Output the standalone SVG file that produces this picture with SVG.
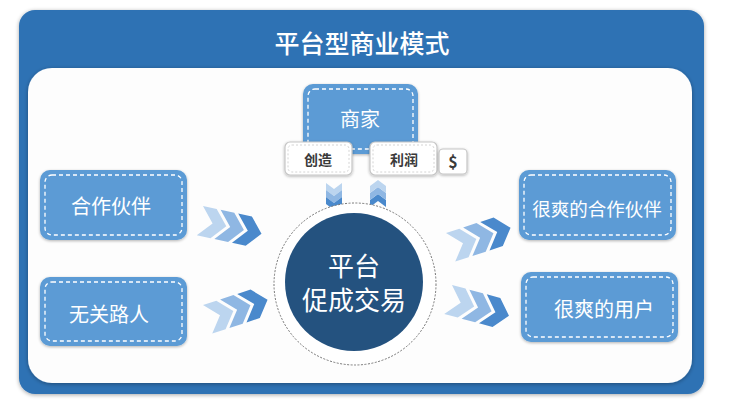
<svg xmlns="http://www.w3.org/2000/svg" width="731" height="409" viewBox="0 0 731 409">
<defs>
<filter id="sh" x="-5%" y="-5%" width="110%" height="115%"><feGaussianBlur in="SourceAlpha" stdDeviation="2"/><feOffset dx="0" dy="1"/><feComponentTransfer><feFuncA type="linear" slope="0.35"/></feComponentTransfer><feMerge><feMergeNode/><feMergeNode in="SourceGraphic"/></feMerge></filter>
<filter id="sh2" x="-10%" y="-10%" width="120%" height="130%"><feGaussianBlur in="SourceAlpha" stdDeviation="1.5"/><feOffset dx="0" dy="1"/><feComponentTransfer><feFuncA type="linear" slope="0.3"/></feComponentTransfer><feMerge><feMergeNode/><feMergeNode in="SourceGraphic"/></feMerge></filter>
<path id="chev" d="M0,0 L14,0 L27,15 L14,30 L0,30 L13,15 Z"/>
<path id="vchev" d="M0,0 L8,6 L16,0 L16,7 L8,13 L0,7 Z"/>
</defs>
<style>
.box{fill:#5b9bd5}
.dash{fill:none;stroke:#fff;stroke-width:1.3;stroke-dasharray:4 3}
.bt{font-family:"Noto Sans CJK SC","Noto Sans",sans-serif;font-size:20px;fill:#fff;text-anchor:middle;dominant-baseline:central}
.big{font-size:26px}
.sm{font-size:18.5px}
.tag{fill:#fff;stroke:#c6c6c6;stroke-width:1.2}
.tagd{fill:none;stroke:#d4d4d4;stroke-width:1;stroke-dasharray:2 2}
.tt{font-family:"Noto Sans CJK SC","Noto Sans",sans-serif;font-size:14px;font-weight:bold;fill:#3a3a3a;text-anchor:middle;dominant-baseline:central}
.dl{font-size:16px}
.c1{fill:#bcd5ef}.c2{fill:#8fb7e3}.c3{fill:#4a89cc}
</style>
<rect width="731" height="409" fill="#fff"/>
<g id="frame">
<rect x="19" y="10" width="685" height="384" rx="16" fill="#2f72b4" filter="url(#sh)"/>
<rect x="28" y="68" width="664" height="315" rx="24" fill="#fdfdfd" filter="url(#sh)"/>
<text x="362" y="42" font-family="'Noto Sans CJK SC','Noto Sans',sans-serif" font-size="25" font-weight="500" fill="#fff" text-anchor="middle" dominant-baseline="central">平台型商业模式</text>
</g>
<g id="connectors">
<g transform="translate(203,206) rotate(12)"><use href="#chev" class="c1"/><use href="#chev" x="18" class="c2"/><use href="#chev" x="36" class="c3"/></g>
<g transform="translate(203,305) rotate(-18)"><use href="#chev" class="c1"/><use href="#chev" x="18" class="c2"/><use href="#chev" x="36" class="c3"/></g>
<g transform="translate(446,233) rotate(-18)"><use href="#chev" class="c1"/><use href="#chev" x="18" class="c2"/><use href="#chev" x="36" class="c3"/></g>
<g transform="translate(452,285) rotate(15)"><use href="#chev" class="c1"/><use href="#chev" x="18" class="c2"/><use href="#chev" x="36" class="c3"/></g>
<g transform="translate(326,183)"><use href="#vchev" class="c1"/><use href="#vchev" y="7" class="c2"/><use href="#vchev" y="14" class="c3"/></g>
<g transform="translate(370,207) scale(1,-1)"><use href="#vchev" class="c3"/><use href="#vchev" y="7" class="c2"/><use href="#vchev" y="14" class="c1"/></g>
</g>
<g id="merchant">
<rect x="303" y="84" width="115" height="70" rx="10" class="box" filter="url(#sh2)"/>
<rect x="308" y="89" width="105" height="60" rx="7" class="dash"/>
<text x="360" y="118" class="bt">商家</text>
</g>
<g id="create">
<rect x="285" y="142" width="67" height="33" rx="5" class="tag" filter="url(#sh2)"/>
<rect x="288" y="145" width="61" height="27" rx="4" class="tagd"/>
<text x="318" y="159" class="tt">创造</text>
</g>
<g id="profit">
<rect x="370" y="142" width="67" height="33" rx="5" class="tag" filter="url(#sh2)"/>
<rect x="373" y="145" width="61" height="27" rx="4" class="tagd"/>
<text x="404" y="159" class="tt">利润</text>
</g>
<g id="dollar">
<rect x="439" y="149" width="28" height="25" rx="4" class="tag" filter="url(#sh2)"/>
<text x="453" y="161" class="tt dl">$</text>
</g>
<g id="platform">
<circle cx="355" cy="284" r="81" fill="#fff" stroke="#777" stroke-width="1" stroke-dasharray="2 1.5"/>
<circle cx="354" cy="282" r="69" fill="#24527f"/>
<text x="354" y="264" class="bt big">平台</text>
<text x="354" y="298" class="bt big">促成交易</text>
</g>
<g id="partner">
<rect x="40" y="170" width="147" height="70" rx="10" class="box" filter="url(#sh2)"/>
<rect x="45" y="175" width="137" height="60" rx="7" class="dash"/>
<text x="111" y="205" class="bt">合作伙伴</text>
</g>
<g id="passerby">
<rect x="40" y="277" width="147" height="69" rx="10" class="box" filter="url(#sh2)"/>
<rect x="45" y="282" width="137" height="59" rx="7" class="dash"/>
<text x="109" y="313" class="bt">无关路人</text>
</g>
<g id="happy-partner">
<rect x="519" y="170" width="157" height="70" rx="10" class="box" filter="url(#sh2)"/>
<rect x="524" y="175" width="147" height="60" rx="7" class="dash"/>
<text x="597" y="208" class="bt sm">很爽的合作伙伴</text>
</g>
<g id="happy-user">
<rect x="521" y="272" width="157" height="70" rx="10" class="box" filter="url(#sh2)"/>
<rect x="526" y="277" width="147" height="60" rx="7" class="dash"/>
<text x="604" y="308" class="bt">很爽的用户</text>
</g>
</svg>
